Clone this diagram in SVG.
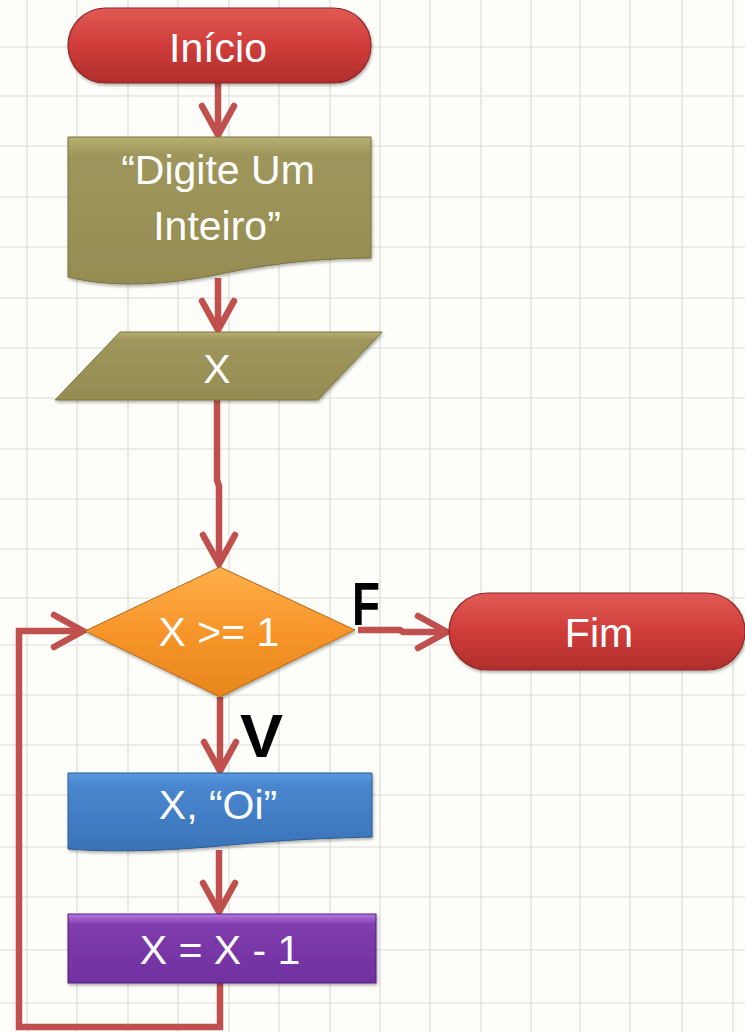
<svg xmlns="http://www.w3.org/2000/svg" width="745" height="1032" viewBox="0 0 745 1032">
<style>
.grid line{stroke:#dcdcd8;stroke-width:1.2}
.lbl{font-family:"Liberation Sans",Arial,sans-serif;font-size:41px;fill:#ffffff;text-anchor:middle}
.tf{font-family:"Liberation Sans",Arial,sans-serif;font-weight:bold;font-size:62px;fill:#000000}
.conn{fill:none;stroke:#c0504d;stroke-width:6.5;stroke-linejoin:miter}
</style>
<defs>
<marker id="arr" markerUnits="userSpaceOnUse" markerWidth="50" markerHeight="50" viewBox="-40 -25 50 50" refX="0" refY="0" orient="auto" overflow="visible">
<path d="M-29,-16 L0,0 L-29,16" fill="none" stroke="#c0504d" stroke-width="6.5" stroke-linecap="round" stroke-linejoin="miter"/>
</marker>
<linearGradient id="gRed" x1="0" y1="0" x2="0" y2="1">
<stop offset="0" stop-color="#e05a55"/><stop offset="0.5" stop-color="#cf3d3a"/><stop offset="1" stop-color="#b02e2c"/>
</linearGradient>
<linearGradient id="gOlive" x1="0" y1="0" x2="0" y2="1">
<stop offset="0" stop-color="#b8af72"/><stop offset="0.12" stop-color="#9f965c"/><stop offset="1" stop-color="#958c52"/>
</linearGradient>
<linearGradient id="gOrange" x1="0" y1="0" x2="0" y2="1">
<stop offset="0" stop-color="#ffb04a"/><stop offset="0.5" stop-color="#f7952a"/><stop offset="1" stop-color="#e5861c"/>
</linearGradient>
<linearGradient id="gBlue" x1="0" y1="0" x2="0" y2="1">
<stop offset="0" stop-color="#5b9ae0"/><stop offset="0.15" stop-color="#4a87d0"/><stop offset="1" stop-color="#3a72b8"/>
</linearGradient>
<linearGradient id="gPurple" x1="0" y1="0" x2="0" y2="1">
<stop offset="0" stop-color="#b678e4"/><stop offset="0.15" stop-color="#7f3cad"/><stop offset="1" stop-color="#7030a0"/>
</linearGradient>
<filter id="sh" x="-10%" y="-10%" width="120%" height="130%">
<feDropShadow dx="1" dy="2" stdDeviation="1.5" flood-color="#000" flood-opacity="0.3"/>
</filter>
</defs>
<rect x="0" y="0" width="745" height="1032" fill="#fdfdf9"/>
<g class="grid">
<line x1="27" y1="0" x2="27" y2="1032"/><line x1="77" y1="0" x2="77" y2="1032"/><line x1="128" y1="0" x2="128" y2="1032"/><line x1="178" y1="0" x2="178" y2="1032"/><line x1="229" y1="0" x2="229" y2="1032"/><line x1="279" y1="0" x2="279" y2="1032"/><line x1="330" y1="0" x2="330" y2="1032"/><line x1="380" y1="0" x2="380" y2="1032"/><line x1="430" y1="0" x2="430" y2="1032"/><line x1="481" y1="0" x2="481" y2="1032"/><line x1="531" y1="0" x2="531" y2="1032"/><line x1="580" y1="0" x2="580" y2="1032"/><line x1="630" y1="0" x2="630" y2="1032"/><line x1="682" y1="0" x2="682" y2="1032"/><line x1="733" y1="0" x2="733" y2="1032"/>
<line x1="0" y1="47" x2="745" y2="47"/><line x1="0" y1="96" x2="745" y2="96"/><line x1="0" y1="146" x2="745" y2="146"/><line x1="0" y1="197" x2="745" y2="197"/><line x1="0" y1="247" x2="745" y2="247"/><line x1="0" y1="298" x2="745" y2="298"/><line x1="0" y1="348" x2="745" y2="348"/><line x1="0" y1="398" x2="745" y2="398"/><line x1="0" y1="449" x2="745" y2="449"/><line x1="0" y1="499" x2="745" y2="499"/><line x1="0" y1="549" x2="745" y2="549"/><line x1="0" y1="598" x2="745" y2="598"/><line x1="0" y1="645" x2="745" y2="645"/><line x1="0" y1="695" x2="745" y2="695"/><line x1="0" y1="745" x2="745" y2="745"/><line x1="0" y1="795" x2="745" y2="795"/><line x1="0" y1="847" x2="745" y2="847"/><line x1="0" y1="897" x2="745" y2="897"/><line x1="0" y1="950" x2="745" y2="950"/><line x1="0" y1="1003" x2="745" y2="1003"/>
</g>
<g id="connectors">
<path class="conn" d="M218,83 V135" marker-end="url(#arr)"/>
<path class="conn" d="M218,278 V330" marker-end="url(#arr)"/>
<path class="conn" d="M217,400 V480 L219,486 V564" marker-end="url(#arr)"/>
<path class="conn" d="M358,630 H400 L403,632 H447" marker-end="url(#arr)"/>
<path class="conn" d="M220,697 V771" marker-end="url(#arr)"/>
<path class="conn" d="M219,850 V912" marker-end="url(#arr)"/>
<path class="conn" d="M220,983 V1027 H19 V631 H83" marker-end="url(#arr)"/>
</g>
<g id="inicio">
<rect x="68" y="8" width="303" height="75" rx="37.5" fill="url(#gRed)" stroke="#8e2725" stroke-width="1.2" filter="url(#sh)"/>
<text class="lbl" x="218" y="62">Início</text>
</g>
<g id="digite">
<path d="M68,137 H371 V258 C330,258 280,262 230,272 C180,283 120,290 68,277 Z" fill="url(#gOlive)" stroke="#7a7240" stroke-width="1" filter="url(#sh)"/>
<text class="lbl" x="218" y="184">“Digite Um</text>
<text class="lbl" x="217" y="240">Inteiro”</text>
</g>
<g id="x-input">
<path d="M120,332 H382 L318,400 H55 Z" fill="url(#gOlive)" stroke="#7a7240" stroke-width="1" filter="url(#sh)"/>
<text class="lbl" x="217" y="383">X</text>
</g>
<g id="decisao">
<path d="M220,567 L355,630 L220,697 L85,631 Z" fill="url(#gOrange)" stroke="#b0681c" stroke-width="1" filter="url(#sh)"/>
<text class="lbl" x="219" y="646">X &gt;= 1</text>
</g>
<g id="label-f">
<text class="tf" x="352" y="625" textLength="28" lengthAdjust="spacingAndGlyphs">F</text>
</g>
<g id="label-v">
<text class="tf" x="240" y="757" textLength="43" lengthAdjust="spacingAndGlyphs">V</text>
</g>
<g id="fim">
<rect x="449" y="593" width="296" height="77" rx="38.5" fill="url(#gRed)" stroke="#8e2725" stroke-width="1.2" filter="url(#sh)"/>
<text class="lbl" x="599" y="647">Fim</text>
</g>
<g id="saida">
<path d="M68,773 H372 V837 C330,838 280,840 230,845 C180,850 120,853 68,849 Z" fill="url(#gBlue)" stroke="#2c5a92" stroke-width="1" filter="url(#sh)"/>
<text class="lbl" x="218" y="819">X, “Oi”</text>
</g>
<g id="decremento">
<rect x="68" y="914" width="308" height="69" fill="url(#gPurple)" stroke="#55207c" stroke-width="1" filter="url(#sh)"/>
<text class="lbl" x="220" y="964">X = X - 1</text>
</g>
</svg>
